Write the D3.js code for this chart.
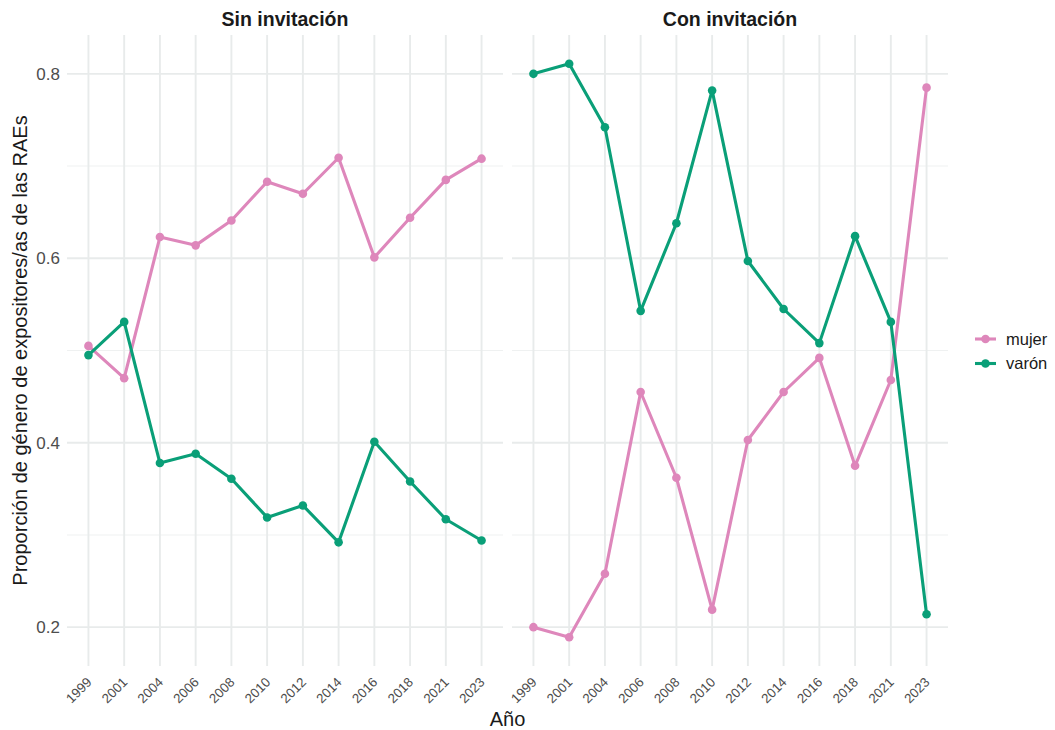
<!DOCTYPE html>
<html>
<head>
<meta charset="utf-8">
<script src="https://cdn.jsdelivr.net/npm/d3@7"></script>
<style>
  html, body { margin: 0; padding: 0; background: #ffffff; }
  svg { display: block; font-family: "Liberation Sans", Arial, Helvetica, sans-serif; }
</style>
</head>
<body>
<svg id="chart" width="1055" height="730"></svg>
<script>
// Survey years (discrete x axis)
const years = ["1999","2001","2004","2006","2008","2010","2012","2014","2016","2018","2021","2023"];

// Facets
const panels = ["Sin invitación", "Con invitación"];

// Proportion of speakers by gender, per facet
const sinMujer = [0.505, 0.470, 0.623, 0.614, 0.641, 0.683, 0.670, 0.709, 0.601, 0.644, 0.685, 0.708];
const sinVaron = [0.495, 0.531, 0.378, 0.388, 0.361, 0.319, 0.332, 0.292, 0.401, 0.358, 0.317, 0.294];
const conMujer = [0.200, 0.189, 0.258, 0.455, 0.362, 0.219, 0.403, 0.455, 0.492, 0.375, 0.468, 0.785];
const conVaron = [0.800, 0.811, 0.742, 0.543, 0.638, 0.782, 0.597, 0.545, 0.508, 0.624, 0.531, 0.214];

const groups = ["mujer", "varón"];
const colors = ["#de87bb", "#0a9f78"];

const yMajor = [0.2, 0.4, 0.6, 0.8];
const yMinor = [0.3, 0.5, 0.7];

const panelData = [
  { title: panels[0], series: [sinMujer, sinVaron] },
  { title: panels[1], series: [conMujer, conVaron] }
];

const svg = d3.select("#chart");

// Layout
const panelLeft = [67, 512];
const panelWidth = 436;
const plotTop = 35, plotBottom = 666;

// Shared y scale with 5% expansion around the data range
const allVals = [].concat(sinMujer, sinVaron, conMujer, conVaron);
const yMin = d3.min(allVals), yMax = d3.max(allVals);
const pad = (yMax - yMin) * 0.05;
const y = d3.scaleLinear().domain([yMin - pad, yMax + pad]).range([plotBottom, plotTop]);

const color = d3.scaleOrdinal().domain(groups).range(colors);

panelData.forEach((p, i) => {
  const x = d3.scalePoint().domain(years)
    .range([panelLeft[i], panelLeft[i] + panelWidth]).padding(0.6);
  const g = svg.append("g");

  // minor grid
  g.selectAll(".minor").data(yMinor).enter().append("line")
    .attr("x1", panelLeft[i]).attr("x2", panelLeft[i] + panelWidth)
    .attr("y1", d => y(d)).attr("y2", d => y(d))
    .attr("stroke", "#eff1f1").attr("stroke-width", 1.1);
  // major grid
  g.selectAll(".major").data(yMajor).enter().append("line")
    .attr("x1", panelLeft[i]).attr("x2", panelLeft[i] + panelWidth)
    .attr("y1", d => y(d)).attr("y2", d => y(d))
    .attr("stroke", "#e8ebeb").attr("stroke-width", 1.9);
  g.selectAll(".vgrid").data(years).enter().append("line")
    .attr("x1", d => x(d)).attr("x2", d => x(d))
    .attr("y1", plotTop).attr("y2", plotBottom)
    .attr("stroke", "#e8ebeb").attr("stroke-width", 1.9);

  // facet title
  g.append("text")
    .attr("x", panelLeft[i] + panelWidth / 2).attr("y", 26)
    .attr("text-anchor", "middle")
    .attr("font-size", 19.5).attr("font-weight", "bold").attr("fill", "#1a1a1a")
    .text(p.title);

  // x tick labels (rotated)
  g.selectAll(".xt").data(years).enter().append("text")
    .attr("transform", d => `translate(${x(d) + 4},${683}) rotate(-45)`)
    .attr("text-anchor", "end")
    .attr("font-size", 13.3).attr("fill", "#4d4d4d")
    .text(d => d);

  // y tick labels on the first panel only
  if (i === 0) {
    g.selectAll(".yt").data(yMajor).enter().append("text")
      .attr("x", 60).attr("y", d => y(d))
      .attr("dy", "0.36em")
      .attr("text-anchor", "end")
      .attr("font-size", 17).attr("fill", "#4d4d4d")
      .text(d => d3.format(".1f")(d));
  }

  // lines and points
  p.series.forEach((vals, k) => {
    const pts = years.map((yr, j) => ({ yr, v: vals[j] }));
    const line = d3.line().x(d => x(d.yr)).y(d => y(d.v));
    g.append("path").datum(pts)
      .attr("d", line)
      .attr("fill", "none")
      .attr("stroke", color(groups[k]))
      .attr("stroke-width", 3.1)
      .attr("stroke-linejoin", "round");
    g.selectAll(".pt" + k).data(pts).enter().append("circle")
      .attr("cx", d => x(d.yr)).attr("cy", d => y(d.v))
      .attr("r", 4.3)
      .attr("fill", color(groups[k]));
  });
});

// Axis titles
svg.append("text")
  .attr("x", (panelLeft[0] + panelLeft[1] + panelWidth) / 2).attr("y", 726)
  .attr("text-anchor", "middle").attr("font-size", 20).attr("fill", "#1a1a1a")
  .text("Año");

svg.append("text")
  .attr("transform", `translate(27,${(plotTop + plotBottom) / 2}) rotate(-90)`)
  .attr("text-anchor", "middle").attr("font-size", 20).attr("fill", "#1a1a1a")
  .text("Proporción de género de expositores/as de las RAEs");

// Legend
const legend = svg.append("g");
groups.forEach((gname, k) => {
  const ly = 339 + k * 24.5;
  legend.append("line")
    .attr("x1", 975).attr("x2", 996).attr("y1", ly).attr("y2", ly)
    .attr("stroke", color(gname)).attr("stroke-width", 3.1);
  legend.append("circle")
    .attr("cx", 985.5).attr("cy", ly).attr("r", 4.3).attr("fill", color(gname));
  legend.append("text")
    .attr("x", 1006).attr("y", ly).attr("dy", "0.35em")
    .attr("font-size", 16.5).attr("fill", "#1a1a1a")
    .text(gname);
});
</script>
</body>
</html>
